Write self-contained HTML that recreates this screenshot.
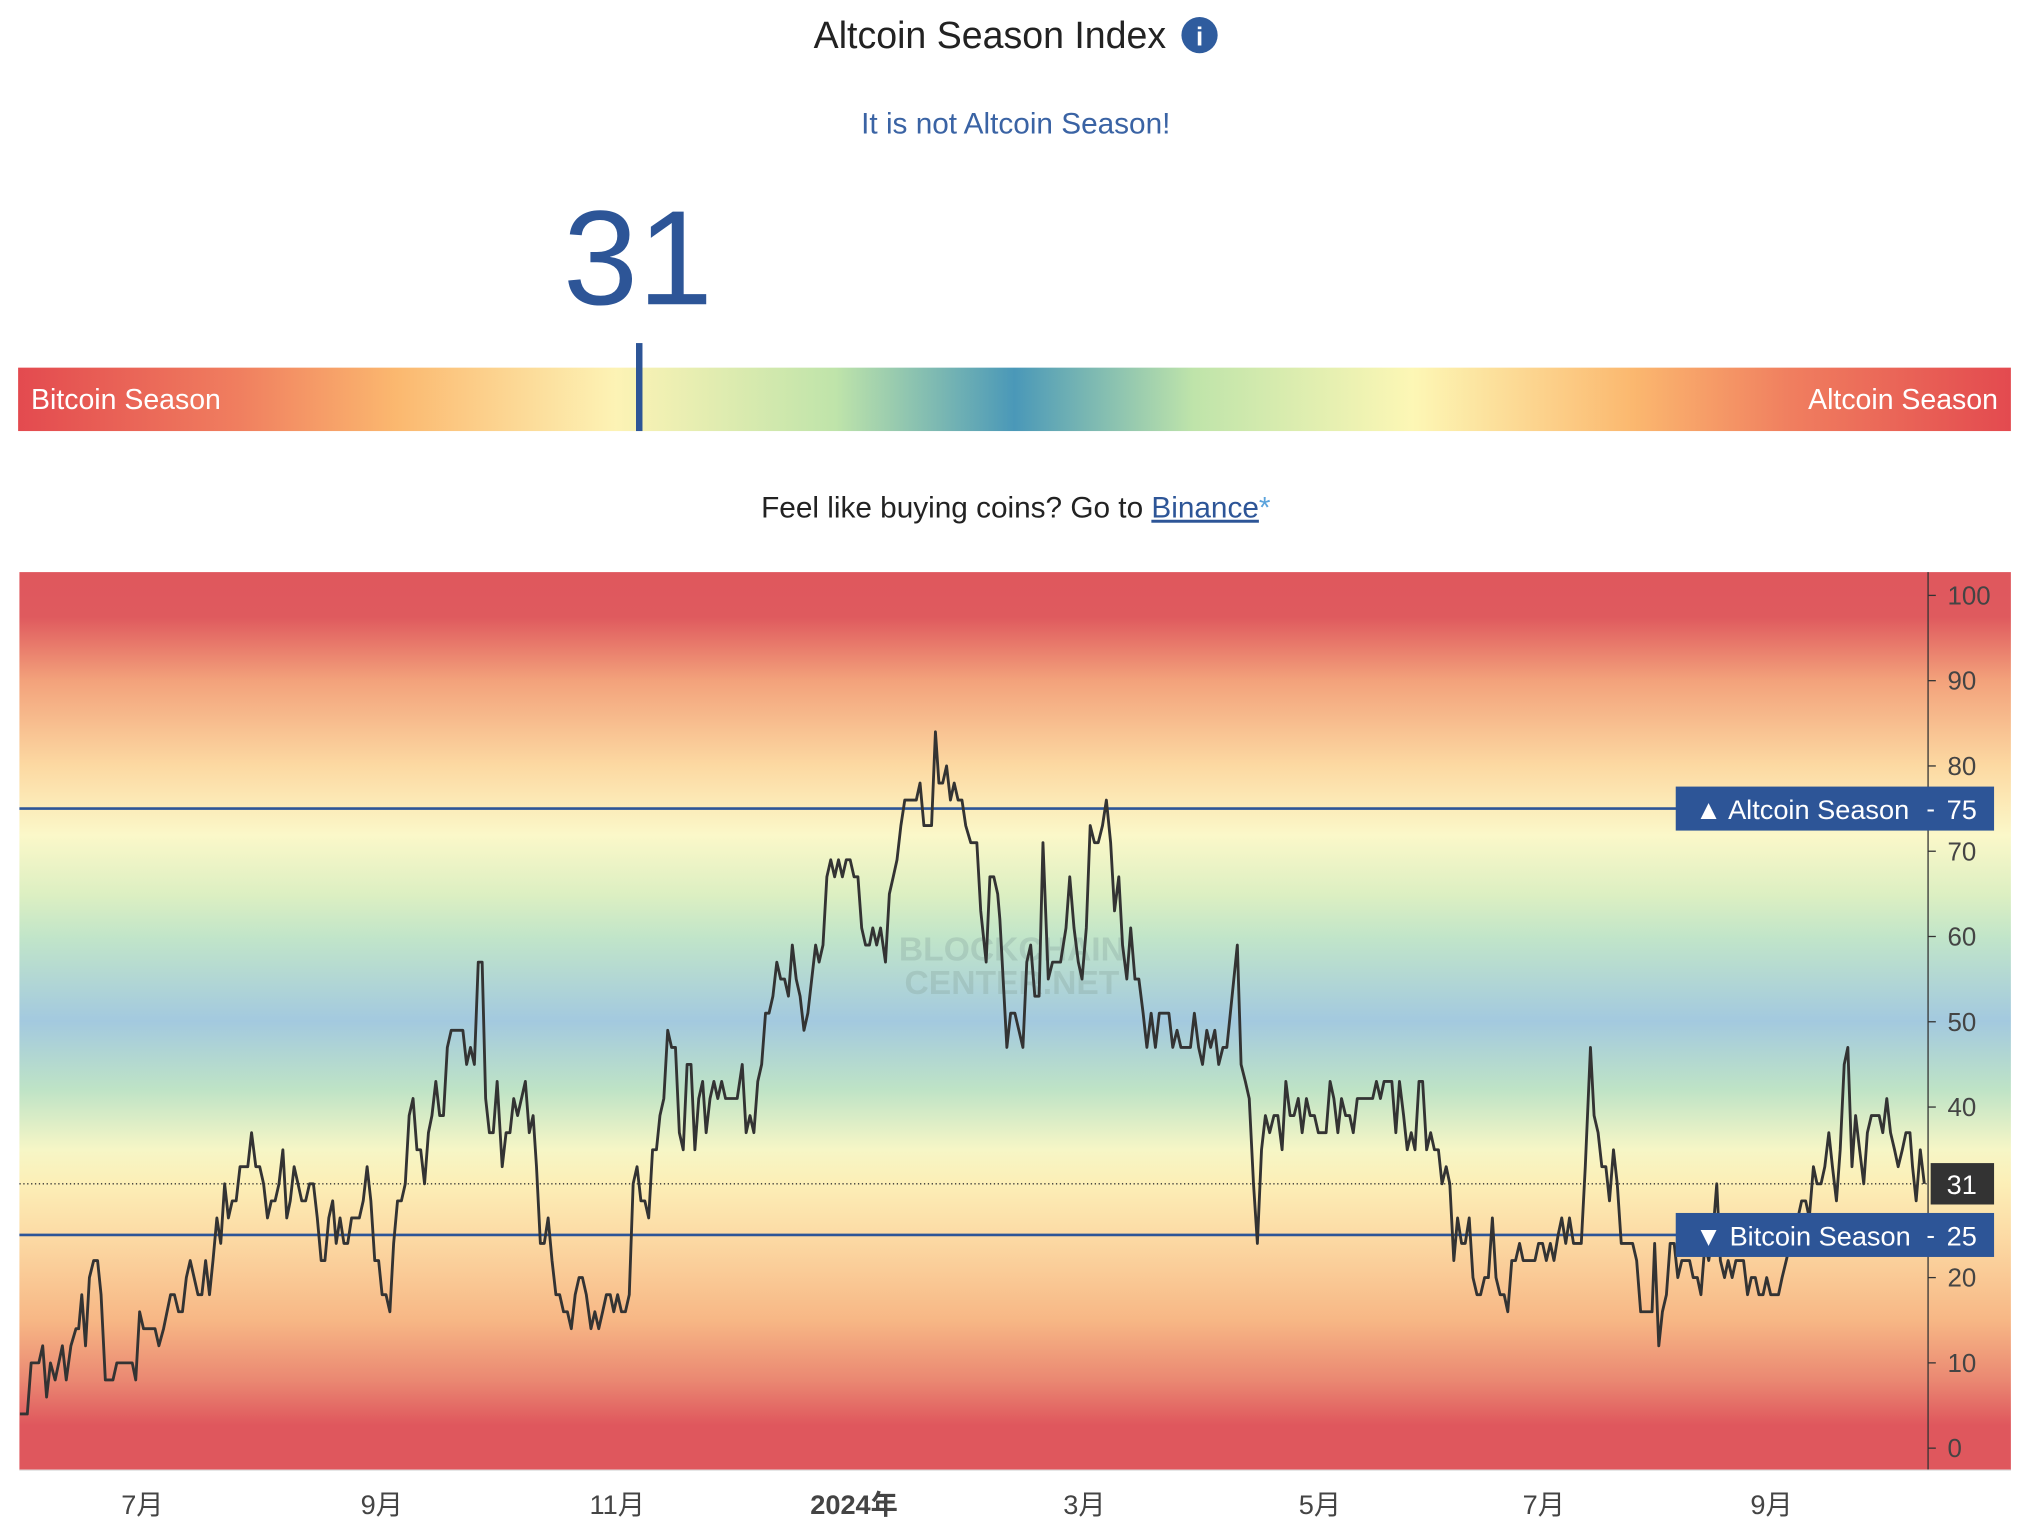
<!DOCTYPE html>
<html><head><meta charset="utf-8"><style>
html,body{margin:0;padding:0;background:#fff;width:2029px;height:1535px;overflow:hidden}
svg{display:block}
text{font-family:"Liberation Sans","Noto Sans CJK SC",sans-serif}
</style></head><body>
<svg id="root" width="2029" height="1535" viewBox="0 0 1568 1186" xmlns="http://www.w3.org/2000/svg">
<defs>
<linearGradient id="barGrad" x1="0" x2="1" y1="0" y2="0">
<stop offset="0" stop-color="#e34a4f"/><stop offset="0.11" stop-color="#f07e5f"/><stop offset="0.19" stop-color="#fbb86f"/><stop offset="0.30" stop-color="#fdf3b5"/><stop offset="0.41" stop-color="#bfe4aa"/><stop offset="0.5" stop-color="#4a98b8"/><stop offset="0.59" stop-color="#bfe4aa"/><stop offset="0.70" stop-color="#fdf7b5"/><stop offset="0.81" stop-color="#fbb86f"/><stop offset="0.89" stop-color="#f07e5f"/><stop offset="1" stop-color="#e34a4f"/>
</linearGradient>
<linearGradient id="bgGrad" x1="0" x2="0" y1="0" y2="1">
<stop offset="0" stop-color="#df575d"/><stop offset="0.05" stop-color="#df5a5e"/><stop offset="0.121" stop-color="#f3a27b"/><stop offset="0.216" stop-color="#fcd9a2"/><stop offset="0.293" stop-color="#fbf8c9"/><stop offset="0.36" stop-color="#dcefc2"/><stop offset="0.407" stop-color="#c1e5c9"/><stop offset="0.5" stop-color="#a3c9df"/><stop offset="0.576" stop-color="#bee3c6"/><stop offset="0.643" stop-color="#f6f6c6"/><stop offset="0.68" stop-color="#fcefb7"/><stop offset="0.738" stop-color="#fcdba5"/><stop offset="0.833" stop-color="#f7b785"/><stop offset="0.9" stop-color="#ea8872"/><stop offset="0.95" stop-color="#df575d"/><stop offset="1" stop-color="#df575d"/>
</linearGradient>
</defs>
<text x="765" y="37" font-size="29" fill="#222" text-anchor="middle">Altcoin Season Index</text>
<g><circle cx="927" cy="27" r="14" fill="#2f5c9e"/><text x="927" y="35" font-size="20" font-weight="bold" fill="#fff" text-anchor="middle" font-family="Liberation Serif,serif">i</text></g>
<text x="785" y="103" font-size="23" fill="#3a63a4" text-anchor="middle">It is not Altcoin Season!</text>
<text x="493" y="235" font-size="104" fill="#2d5597" text-anchor="middle">31</text>
<rect x="14" y="284" width="1540" height="49" fill="url(#barGrad)"/>
<rect x="491.5" y="265" width="5" height="68" fill="#2d5597"/>
<text x="24" y="316" font-size="22" fill="#fff">Bitcoin Season</text>
<text x="1544" y="316" font-size="22" fill="#fff" text-anchor="end">Altcoin Season</text>
<text x="785" y="400" font-size="23" fill="#222" text-anchor="middle">Feel like buying coins? Go to <tspan fill="#2d5597" text-decoration="underline">Binance</tspan><tspan fill="#5ba3dc">*</tspan></text>
<g id="chart">
<rect x="15" y="442" width="1539" height="694" fill="url(#bgGrad)"/>
<text x="782" y="742" font-size="26" font-weight="bold" fill="#8aa8a0" opacity="0.35" text-anchor="middle">BLOCKCHAIN</text>
<text x="782" y="768" font-size="26" font-weight="bold" fill="#8aa8a0" opacity="0.35" text-anchor="middle">CENTER.NET</text>
<line x1="1490" y1="442" x2="1490" y2="1136" stroke="#333" stroke-width="1"/>
<line x1="15" y1="1136" x2="1554" y2="1136" stroke="#ddd" stroke-width="1"/>
<g id="yticks"></g><g id="xticks"></g><g id="lines"></g>
</g>
</svg>
<script>
const yTicks=[0,10,20,30,40,50,60,70,80,90,100].filter(v=>v!==30);
const xLabels=["7月","9月","11月","2024年","3月","5月","7月","9月"];
const xLabelDays=[0,62,123,184,244,305,366,428];
const days=[-31.7,-29.8,-28.8,-26.8,-25.8,-24.8,-23.8,-22.6,-20.7,-19.7,-18.5,-17.2,-16.5,-15.7,-14.7,-13.7,-12.6,-11.6,-10.7,-9.6,-7.6,-6.6,-2.6,-1.7,-0.7,0.3,3.3,4.3,5.5,7.3,8.3,9.4,10.4,11.4,12.4,13.4,14.4,15.4,16.4,17.4,18.3,19.3,20.3,21.3,22.3,23.3,24.3,25.3,27.3,28.3,29.4,30.4,31.4,32.4,33.4,34.4,35.4,36.4,37.4,38.3,39.3,40.3,41.3,42.3,43.3,44.3,45.3,46.3,47.3,48.3,49.3,50.2,51.2,52.2,53.2,54.2,56.2,57.2,58.2,59.2,60.2,61.2,62.1,63.1,64.1,65.1,66.1,67.1,68.1,69.1,70.1,71.1,72.1,73.1,74.1,75,76,77,78,79,80,83,84,85,86,87,88,88.9,89.9,90.9,91.9,93.2,94.2,95.2,96.2,97.2,99.2,100.2,101.2,102.1,103.1,104.1,105.1,106.1,107.1,108.1,109.1,110.1,111.1,112.1,113.1,114,115,116.2,117.2,118.2,119.2,120.2,121.2,122.1,123.1,124.1,125.1,126.1,127.1,128.1,129.1,130.1,131.1,132.1,133.1,134,135,136,137,138,139,140,141,142,143,144,145,145.9,146.9,147.9,148.9,149.9,150.9,153.9,155.2,156.2,157.2,158.2,159.2,160.2,161.2,162.1,163.1,164.1,165.1,166.1,167.1,168.1,169.1,170.1,171.1,172.1,173.1,174.1,175,176,177,178,179,180,181,182,183,184,185,186,187,188,188.9,189.9,190.9,192.2,193.2,194.2,195.2,196.2,197.2,200.2,201.2,202.2,204.2,205.2,206.1,207.1,208.1,209.1,210.1,211.1,212.1,213.1,214.4,216,217,218.4,219.4,220.4,221.4,222,223.8,224.8,225.9,228,229,230,231.1,232.2,233.2,234.6,235.7,237.8,239.2,240.2,241.3,242.4,243.4,244.5,245.5,246.6,247.6,248.7,249.7,250.8,251.8,252.9,253.9,255,256,257.1,258.1,259.2,260.2,261.3,262.4,263.4,265.9,266.9,268,269,271.5,272.5,273.6,274.6,275.7,276.7,277.8,278.8,279.9,280.9,283.6,284.6,285.7,286.7,287.8,288.8,289.9,290.9,292,293.1,294.1,295.2,296.2,297.3,298.3,299.4,300.4,301.5,302.5,303.6,304.6,306.7,307.8,308.8,309.9,310.9,312,313.1,314.1,315.2,319.4,320.4,321.5,322.5,324.6,325.7,326.7,327.8,328.8,329.9,330.9,332,333,334.1,335.2,336.2,337.3,338.3,339.4,340.4,341.5,342.5,343.6,344.6,345.7,346.7,347.8,348.8,349.9,350.9,352,353,354.1,355.2,356.2,357.3,358.3,359.4,360.4,363.6,364.6,365.7,366.7,367.8,368.8,369.9,370.9,372,373,374.1,376.2,377.3,378.7,379.7,380.8,381.8,382.9,383.9,385,386,387.1,390.2,391.3,392.4,395.5,396.2,397.3,398.3,399.4,400.4,401.5,402.5,403.6,405.7,406.7,407.8,408.8,409.9,410.9,412,413.1,414.1,415.2,416.2,417.3,418.3,420.4,421.5,422.5,423.6,424.6,425.7,426.7,427.8,429.9,430.9,432,433.1,434.1,435.2,436.2,437.3,438.3,439.4,440.4,441.5,442.5,443.6,444.6,445.7,446.7,447.8,448.8,449.9,450.9,452,453.1,454.1,455.2,457.3,458.3,459.4,460.4,461.5,462.5,463.6,464.6,465.7,466.4,467.4,468.5,469.6];
const values=[4,4,10,10,12,6,10,8,12,8,12,14,14,18,12,20,22,22,18,8,8,10,10,8,16,14,14,12,14,18,18,16,16,20,22,20,18,18,22,18,22,27,24,31,27,29,29,33,33,37,33,33,31,27,29,29,31,35,27,29,33,31,29,29,31,31,27,22,22,27,29,24,27,24,24,27,27,29,33,29,22,22,18,18,16,24,29,29,31,39,41,35,35,31,37,39,43,39,39,47,49,49,45,47,45,57,57,41,37,37,43,33,37,37,41,39,43,37,39,33,24,24,27,22,18,18,16,16,14,18,20,20,18,14,16,14,16,18,18,16,18,16,16,18,31,33,29,29,27,35,35,39,41,49,47,47,37,35,45,45,35,41,43,37,41,43,41,43,41,41,45,37,39,37,43,45,51,51,53,57,55,55,53,59,55,53,49,51,55,59,57,59,67,69,67,69,67,69,69,67,67,61,59,59,61,59,61,57,65,67,69,73,76,76,78,73,73,84,78,78,80,76,78,76,76,73,71,71,63,57,67,67,65,62,47,51,51,47,57,59,53,53,71,55,57,57,61,67,61,57,55,61,73,71,71,73,76,71,63,67,59,55,61,55,55,51,47,51,47,51,51,47,49,47,47,51,47,45,49,47,49,45,47,47,59,45,43,41,31,24,35,39,37,39,39,35,43,39,39,41,37,41,39,39,37,37,43,41,37,41,39,39,37,41,41,43,41,43,43,37,43,39,35,37,35,43,43,35,37,35,35,31,33,31,22,27,24,24,27,20,18,18,20,20,27,20,18,18,16,22,22,24,22,22,24,24,22,24,22,25,27,24,27,24,24,33,47,39,37,33,33,29,35,31,24,24,22,16,16,24,12,16,18,24,24,20,22,22,20,20,18,24,22,25,31,22,20,22,20,22,22,18,20,20,18,18,20,18,18,20,22,24,27,27,29,29,27,33,31,31,33,37,33,29,35,45,47,33,39,35,31,37,39,39,37,41,37,35,33,35,37,37,33,29,35,31];
const refLevels=[75,25];
const currentValue=31;
const NS="http://www.w3.org/2000/svg";
// time axis anchors (calibrated to label positions in the reference)
const axisDays=[0,62,123,184,244,305,366,428];
const axisPx=[110,295,477,660,838,1020,1193,1369];
function xs(d){
  const n=axisDays.length;
  if(d<=axisDays[0]) return axisPx[0]+(d-axisDays[0])*(axisPx[1]-axisPx[0])/(axisDays[1]-axisDays[0]);
  for(let i=0;i<n-1;i++){ if(d<=axisDays[i+1]) return axisPx[i]+(d-axisDays[i])*(axisPx[i+1]-axisPx[i])/(axisDays[i+1]-axisDays[i]); }
  return axisPx[n-1]+(d-axisDays[n-1])*(axisPx[n-1]-axisPx[n-2])/(axisDays[n-1]-axisDays[n-2]);
}
function ys(v){return 1119-v*6.59;}
function mk(tag,attrs,parent,txt){const e=document.createElementNS(NS,tag);for(const k in attrs)e.setAttribute(k,attrs[k]);if(txt!==undefined)e.textContent=txt;parent.appendChild(e);return e;}
const yt=document.getElementById('yticks');
yTicks.forEach(v=>{
  const t=mk('line',{x1:1490,x2:1496,y1:ys(v),y2:ys(v),stroke:'#333'},yt);
  
  
  const l=mk('text',{x:1505,y:ys(v)+7,'font-size':20,fill:'#444'},yt,String(v));
  
  
});
const xt=document.getElementById('xticks');
xLabels.forEach((s,i)=>{
  const l=mk('text',{x:xs(xLabelDays[i]),y:1170,'font-size':21,fill:'#444','text-anchor':'middle','font-weight':s.indexOf('年')>=0?'bold':'normal'},xt,s);
  
  
});
const lg=document.getElementById('lines');
refLevels.forEach(v=>{
  const r=mk('line',{x1:15,x2:1490,y1:ys(v),y2:ys(v),stroke:'#2d5597','stroke-width':2},lg);
  
  
});
const cl=mk('line',{x1:15,x2:1490,y1:ys(currentValue),y2:ys(currentValue),stroke:'#333','stroke-width':1,'stroke-dasharray':'1,2'},lg);


let d='';
days.forEach((dd,i)=>{d+=(i?'L':'M')+xs(dd).toFixed(1)+','+ys(values[i]).toFixed(1);});
const p=mk('path',{d:d,fill:'none',stroke:'#333','stroke-width':2.2,'stroke-linejoin':'round'},lg);


const labels=[["▲ Altcoin Season",75],["▼ Bitcoin Season",25]];
labels.forEach(a=>{
  const g=mk('g',{},lg);
  
  
  mk('rect',{x:1295,y:ys(a[1])-17,width:246,height:34,fill:'#2d5597'},g);
  mk('text',{x:1310,y:ys(a[1])+8,'font-size':21,fill:'#fff'},g,a[0]);
  mk('text',{x:1492,y:ys(a[1])+7,'font-size':20,fill:'#fff','text-anchor':'middle'},g,'-');
  mk('text',{x:1516,y:ys(a[1])+8,'font-size':21,fill:'#fff','text-anchor':'middle'},g,String(a[1]));
});
const cg=mk('g',{},lg);


mk('rect',{x:1492,y:ys(currentValue)-16,width:49,height:32,fill:'#333'},cg);
mk('text',{x:1516,y:ys(currentValue)+8,'font-size':21,fill:'#fff','text-anchor':'middle'},cg,String(currentValue));
</script>
</body></html>
